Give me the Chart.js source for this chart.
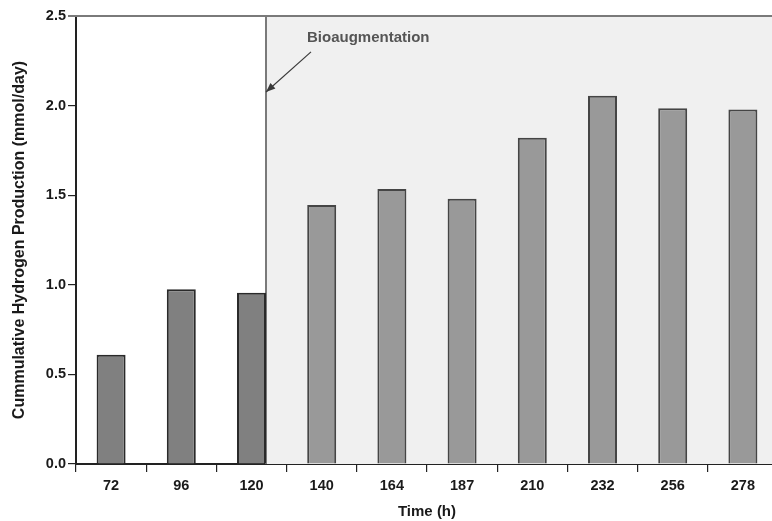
<!DOCTYPE html>
<html>
<head>
<meta charset="utf-8">
<script src="https://cdn.jsdelivr.net/npm/chart.js@4/dist/chart.umd.min.js"></script>
<style>
  html, body { margin: 0; padding: 0; background: #fff; overflow: hidden; }
  .chart-box { position: absolute; left: 0; top: 0; width: 780px; height: 521px; }
</style>
</head>
<body>
<div class="chart-box"><canvas id="chart"></canvas></div>
<script>
const timeLabels = ['72', '96', '120', '140', '164', '187', '210', '232', '256', '278'];
const hydrogen   = [0.61, 0.975, 0.955, 1.445, 1.535, 1.48, 1.82, 2.055, 1.985, 1.978];
const yTicks     = [0, 0.5, 1.0, 1.5, 2.0, 2.5];
const bioStart   = 3;   // first sample after bioaugmentation
const noteText   = 'Bioaugmentation';

const FONT = "'Liberation Sans', Arial, Helvetica, sans-serif";

// grey panel for the bioaugmentation period, plus the frame line on top
const shadePlugin = {
  id: 'shade',
  beforeDatasetsDraw(chart) {
    const { ctx, chartArea: a } = chart;
    const bar = chart.getDatasetMeta(0).data[bioStart - 1];
    const x0 = Math.round(bar.x + bar.width / 2);
    ctx.save();
    ctx.fillStyle = '#f0f0f0';
    ctx.fillRect(x0, a.top, a.right - x0, a.bottom - a.top);
    ctx.strokeStyle = '#7a7a7a';
    ctx.lineWidth = 2;
    ctx.beginPath();
    ctx.moveTo(a.left - 8, a.top);
    ctx.lineTo(a.right, a.top);
    ctx.moveTo(x0, a.top);
    ctx.lineTo(x0, a.bottom);
    ctx.moveTo(a.right, a.top);
    ctx.lineTo(a.right, a.bottom);
    ctx.stroke();
    ctx.restore();
  },
  afterDatasetsDraw(chart) {
    const { ctx, scales: { y } } = chart;
    const bar = chart.getDatasetMeta(0).data[bioStart - 1];
    const x0 = Math.round(bar.x + bar.width / 2);
    const hx = x0, hy = y.getPixelForValue(2.076);
    const tx = x0 + 45, ty = y.getPixelForValue(2.3);
    ctx.save();
    ctx.strokeStyle = '#3a3a3a';
    ctx.fillStyle = '#3a3a3a';
    ctx.lineWidth = 1.2;
    ctx.beginPath();
    ctx.moveTo(tx, ty);
    ctx.lineTo(hx, hy);
    ctx.stroke();
    const ang = Math.atan2(hy - ty, hx - tx);
    ctx.beginPath();
    ctx.moveTo(hx, hy);
    ctx.lineTo(hx - 10 * Math.cos(ang - 0.38), hy - 10 * Math.sin(ang - 0.38));
    ctx.lineTo(hx - 10 * Math.cos(ang + 0.38), hy - 10 * Math.sin(ang + 0.38));
    ctx.closePath();
    ctx.fill();
    ctx.fillStyle = '#555';
    ctx.font = 'bold 15px ' + FONT;
    ctx.textAlign = 'left';
    ctx.textBaseline = 'middle';
    ctx.fillText(noteText, x0 + 41, y.getPixelForValue(2.38));
    ctx.restore();
  }
};

new Chart(document.getElementById('chart').getContext('2d'), {
  type: 'bar',
  data: {
    labels: timeLabels,
    datasets: [{
      data: hydrogen,
      backgroundColor: (c) => c.dataIndex < bioStart ? '#808080' : '#999999',
      borderColor: (c) => c.dataIndex < bioStart ? '#2a2a2a' : '#454545',
      borderWidth: 2,
      barPercentage: 0.413,
      categoryPercentage: 1
    }]
  },
  options: {
    responsive: true,
    maintainAspectRatio: false,
    animation: false,
    layout: { padding: { top: 16, right: 2, left: 0, bottom: 0 } },
    plugins: {
      legend: { display: false },
      tooltip: { enabled: false }
    },
    scales: {
      x: {
        offset: true,
        afterFit: (s) => { s.height = 57; },
        grid: { offset: true, drawOnChartArea: false, color: '#222', tickLength: 8, lineWidth: 1.2 },
        border: { color: '#222', width: 2 },
        ticks: { color: '#1a1a1a', padding: 5, font: { family: FONT, size: 14.5, weight: 'bold' } },
        title: {
          display: true, text: 'Time (h)', color: '#1a1a1a',
          padding: { top: 0, bottom: 0 },
          font: { family: FONT, size: 15, weight: 'bold' }
        }
      },
      y: {
        min: 0,
        max: 2.5,
        afterFit: (s) => { s.width = 76; },
        afterBuildTicks: (s) => { s.ticks = yTicks.map(v => ({ value: v })); },
        grid: { drawOnChartArea: false, color: '#222', tickLength: 8, lineWidth: 1.2 },
        border: { color: '#222', width: 2 },
        ticks: {
          color: '#1a1a1a', padding: 2,
          font: { family: FONT, size: 14.5, weight: 'bold' },
          callback: (v) => Number(v).toFixed(1)
        },
        title: {
          display: true, text: 'Cummulative Hydrogen Production (mmol/day)', color: '#1a1a1a',
          padding: { top: 10, bottom: 0 },
          font: { family: FONT, size: 16, weight: 'bold' }
        }
      }
    }
  },
  plugins: [shadePlugin]
});
</script>
</body>
</html>
